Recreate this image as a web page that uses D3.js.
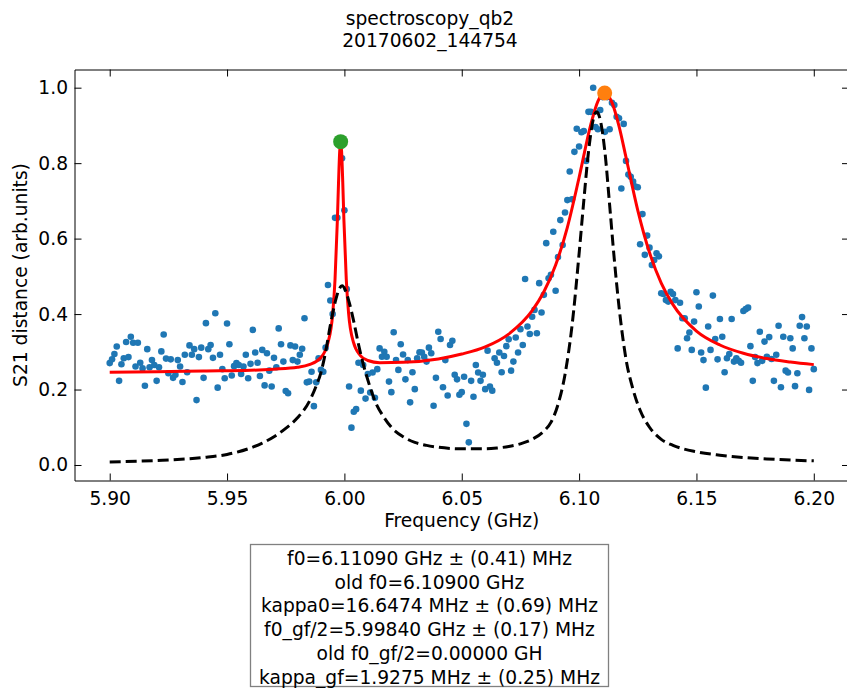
<!DOCTYPE html>
<html>
<head>
<meta charset="utf-8">
<title>spectroscopy_qb2</title>
<script src="https://d3js.org/d3.v7.min.js"></script>
<style>
  body { margin: 0; background: #fff; }
  svg { display: block; font-family: "DejaVu Sans", sans-serif; }
</style>
</head>
<body>
<svg id="chart" width="847" height="688"></svg>
<script>
// measured sweep (GHz)
const freqs = [
  5.900,5.901,5.902,5.903,5.904,5.905,5.906,5.907,5.908,5.909,
  5.910,5.911,5.912,5.913,5.914,5.915,5.916,5.917,5.918,5.919,
  5.920,5.921,5.922,5.923,5.924,5.925,5.926,5.927,5.928,5.929,
  5.930,5.931,5.932,5.933,5.934,5.935,5.936,5.937,5.938,5.939,
  5.940,5.941,5.942,5.943,5.944,5.945,5.946,5.947,5.948,5.949,
  5.950,5.951,5.952,5.953,5.954,5.955,5.956,5.957,5.958,5.959,
  5.960,5.961,5.962,5.963,5.964,5.965,5.966,5.967,5.968,5.969,
  5.970,5.971,5.972,5.973,5.974,5.975,5.976,5.977,5.978,5.979,
  5.980,5.981,5.982,5.983,5.984,5.985,5.986,5.987,5.988,5.989,
  5.990,5.991,5.992,5.993,5.994,5.995,5.996,5.997,5.998,5.999,
  6.000,6.001,6.002,6.003,6.004,6.005,6.006,6.007,6.008,6.009,
  6.010,6.011,6.012,6.013,6.014,6.015,6.016,6.017,6.018,6.019,
  6.020,6.021,6.022,6.023,6.024,6.025,6.026,6.027,6.028,6.029,
  6.030,6.031,6.032,6.033,6.034,6.035,6.036,6.037,6.038,6.039,
  6.040,6.041,6.042,6.043,6.044,6.045,6.046,6.047,6.048,6.049,
  6.050,6.051,6.052,6.053,6.054,6.055,6.056,6.057,6.058,6.059,
  6.060,6.061,6.062,6.063,6.064,6.065,6.066,6.067,6.068,6.069,
  6.070,6.071,6.072,6.073,6.074,6.075,6.076,6.077,6.078,6.079,
  6.080,6.081,6.082,6.083,6.084,6.085,6.086,6.087,6.088,6.089,
  6.090,6.091,6.092,6.093,6.094,6.095,6.096,6.097,6.098,6.099,
  6.100,6.101,6.102,6.103,6.104,6.105,6.106,6.107,6.108,6.109,
  6.110,6.111,6.112,6.113,6.114,6.115,6.116,6.117,6.118,6.119,
  6.120,6.121,6.122,6.123,6.124,6.125,6.126,6.127,6.128,6.129,
  6.130,6.131,6.132,6.133,6.134,6.135,6.136,6.137,6.138,6.139,
  6.140,6.141,6.142,6.143,6.144,6.145,6.146,6.147,6.148,6.149,
  6.150,6.151,6.152,6.153,6.154,6.155,6.156,6.157,6.158,6.159,
  6.160,6.161,6.162,6.163,6.164,6.165,6.166,6.167,6.168,6.169,
  6.170,6.171,6.172,6.173,6.174,6.175,6.176,6.177,6.178,6.179,
  6.180,6.181,6.182,6.183,6.184,6.185,6.186,6.187,6.188,6.189,
  6.190,6.191,6.192,6.193,6.194,6.195,6.196,6.197,6.198,6.199,
  6.200
];

// S21 distance
const s21 = [
  .270,.280,.294,.314,.223,.267,.283,.326,.286,.340,
  .324,.261,.324,.271,.256,.210,.307,.259,.278,.265,
  .223,.259,.301,.346,.282,.243,.280,.231,.239,.278,
  .261,.220,.292,.246,.317,.292,.307,.172,.286,.311,
  .231,.376,.307,.318,.284,.402,.205,.292,.254,.230,
  .375,.320,.237,.262,.270,.265,.241,.261,.292,.230,
  .268,.358,.298,.271,.236,.305,.211,.296,.250,.208,
  .284,.259,.362,.320,.274,.196,.190,.317,.278,.314,
  .274,.292,.308,.389,.219,.221,.247,.156,.219,.283,
  .252,.247,.311,.477,.436,.400,.655,.655,.850,.813,
  .675,.466,.208,.099,.141,.148,.271,.197,.265,.176,
  .241,.192,.245,.178,.254,.309,.287,.300,.287,.221,
  .193,.352,.278,.252,.320,.293,.227,.278,.166,.246,
  .201,.283,.299,.298,.287,.274,.311,.296,.157,.231,
  .353,.334,.206,.278,.184,.318,.329,.239,.227,.186,
  .193,.234,.109,.060,.223,.181,.265,.245,.223,.239,
  .201,.303,.208,.197,.283,.271,.298,.246,.289,.315,
  .333,.250,.274,.338,.298,.360,.318,.493,.367,.347,
  .393,.411,.349,.482,.404,.451,.588,.495,.504,.618,
  .462,.551,.649,.583,.669,.702,.778,.704,.830,.891,
  .844,.882,.885,.806,.936,.936,1.000,.896,.890,.941,
  .975,.883,.975,.890,.960,.954,.923,.919,.733,.904,
  .806,.770,.764,.751,.738,.736,.585,.665,.557,.608,
  .576,.530,.543,.561,.553,.455,.453,.437,.433,.459,
  .453,.437,.309,.430,.389,.389,.336,.351,.305,.380,
  .458,.420,.298,.278,.205,.367,.305,.449,.334,.280,
  .387,.340,.246,.283,.294,.387,.274,.283,.276,.271,
  .408,.413,.417,.315,.223,.286,.270,.353,.276,.327,
  .287,.339,.281,.223,.292,.369,.206,.340,.250,.245,
  .336,.309,.209,.243,.369,.392,.336,.367,.199,.309,
  .254
];

// fit curve (red)
const fitFreqs = [5.900,5.920,5.940,5.960,5.970,5.980,5.985,5.990,5.993,5.995,
  5.996,5.997,5.9975,5.998,5.9984,5.9988,5.9993,5.9998,6.0008,6.0018,
  6.0038,6.0068,6.010,6.015,6.025,6.040,6.050,6.060,6.070,6.080,
  6.085,6.090,6.095,6.100,6.105,6.108,6.1109,6.114,6.117,6.120,
  6.125,6.130,6.135,6.140,6.150,6.160,6.170,6.180,6.190,6.200];
const fitVals = [0.246,0.247,0.249,0.251,0.254,0.259,0.266,0.285,0.324,0.400,
  0.491,0.648,0.749,0.832,0.857,0.832,0.749,0.648,0.492,0.401,
  0.326,0.290,0.277,0.271,0.272,0.281,0.294,0.313,0.347,0.409,
  0.459,0.530,0.630,0.762,0.903,0.964,0.986,0.961,0.898,0.815,
  0.675,0.563,0.482,0.425,0.355,0.318,0.296,0.282,0.273,0.266];

// initial guess (black dashed)
const guessFreqs = [5.900,5.920,5.940,5.950,5.960,5.965,5.970,5.975,5.980,5.985,
  5.988,5.990,5.992,5.994,5.996,5.9975,5.999,6.0005,6.002,6.004,
  6.006,6.008,6.010,6.013,6.017,6.020,6.025,6.030,6.035,6.040,
  6.050,6.060,6.065,6.070,6.075,6.080,6.085,6.088,6.091,6.094,
  6.097,6.100,6.102,6.104,6.106,6.1075,6.109,6.111,6.113,6.115,
  6.117,6.120,6.123,6.126,6.130,6.135,6.140,6.150,6.160,6.170,
  6.180,6.190,6.200];
const guessVals = [0.008,0.012,0.020,0.028,0.045,0.058,0.075,0.097,0.125,0.168,
  0.210,0.245,0.300,0.370,0.430,0.462,0.475,0.462,0.432,0.380,
  0.320,0.268,0.225,0.170,0.125,0.100,0.075,0.060,0.052,0.047,
  0.043,0.043,0.045,0.049,0.056,0.068,0.090,0.113,0.160,0.240,
  0.370,0.560,0.700,0.830,0.915,0.936,0.915,0.830,0.690,0.545,
  0.420,0.280,0.200,0.145,0.100,0.068,0.052,0.035,0.026,0.020,
  0.016,0.013,0.011];

// fitted peak positions
const peakFreqs = [5.9984, 6.1109];
const peakVals = [0.857, 0.986];
const peakColors = ['#2ca02c', '#ff7f0e'];

const xTicks = [5.90, 5.95, 6.00, 6.05, 6.10, 6.15, 6.20];
const yTicks = [0.0, 0.2, 0.4, 0.6, 0.8, 1.0];
const titleLines = ['spectroscopy_qb2', '20170602_144754'];
const infoLines = [
  'f0=6.11090 GHz \u00b1 (0.41) MHz',
  'old f0=6.10900 GHz',
  'kappa0=16.6474 MHz \u00b1 (0.69) MHz',
  'f0_gf/2=5.99840 GHz \u00b1 (0.17) MHz',
  'old f0_gf/2=0.00000 GH',
  'kappa_gf=1.9275 MHz \u00b1 (0.25) MHz'
];

const svg = d3.select('#chart');
const fs = '18.67px';
const plotLeft = 74.5, plotRight = 849, plotTop = 69.5, plotBottom = 480.5;

svg.append('rect').attr('width', 847).attr('height', 688).attr('fill', '#fff');

const x = d3.scaleLinear().domain([5.885, 6.215]).range([plotLeft, plotRight]);
const y = d3.scaleLinear().domain([-0.0411, 1.0482]).range([plotBottom, plotTop]);

// data points
svg.append('g').selectAll('circle')
  .data(freqs)
  .join('circle')
  .attr('cx', d => x(d))
  .attr('cy', (d, i) => y(s21[i]))
  .attr('r', 3.3)
  .attr('fill', '#1f77b4');

const line = d3.line()
  .x(d => x(d[0]))
  .y(d => y(d[1]))
  .curve(d3.curveMonotoneX);

// fit
svg.append('path')
  .datum(fitFreqs.map((f, i) => [f, fitVals[i]]))
  .attr('d', line)
  .attr('fill', 'none')
  .attr('stroke', '#ff0000')
  .attr('stroke-width', 3);

// guess
svg.append('path')
  .datum(guessFreqs.map((f, i) => [f, guessVals[i]]))
  .attr('d', line)
  .attr('fill', 'none')
  .attr('stroke', '#000')
  .attr('stroke-width', 3)
  .attr('stroke-dasharray', '11,5');

// peak markers
svg.append('g').selectAll('circle')
  .data(peakFreqs)
  .join('circle')
  .attr('cx', d => x(d))
  .attr('cy', (d, i) => y(peakVals[i]))
  .attr('r', 7.5)
  .attr('fill', (d, i) => peakColors[i]);

// axes, ticks pointing inward on all four sides
const xAxis = svg.append('g')
  .attr('transform', `translate(0,${plotBottom})`)
  .call(d3.axisBottom(x).tickValues(xTicks).tickFormat(d3.format('.2f'))
    .tickSizeInner(-7).tickSizeOuter(0).tickPadding(11));
const yAxis = svg.append('g')
  .attr('transform', `translate(${plotLeft},0)`)
  .call(d3.axisLeft(y).tickValues(yTicks).tickFormat(d3.format('.1f'))
    .tickSizeInner(-7).tickSizeOuter(0).tickPadding(6.5));
const topAxis = svg.append('g')
  .attr('transform', `translate(0,${plotTop})`)
  .call(d3.axisTop(x).tickValues(xTicks).tickFormat('').tickSizeInner(-7).tickSizeOuter(0));
const rightAxis = svg.append('g')
  .attr('transform', `translate(${plotRight},0)`)
  .call(d3.axisRight(y).tickValues(yTicks).tickFormat('').tickSizeInner(-7).tickSizeOuter(0));

[xAxis, yAxis, topAxis, rightAxis].forEach(g => {
  g.select('.domain').attr('stroke', '#000').attr('stroke-width', 1);
  g.selectAll('.tick line').attr('stroke', '#000').attr('stroke-width', 1);
  g.selectAll('.tick text')
    .attr('fill', '#000')
    .style('font-family', '"DejaVu Sans", sans-serif')
    .style('font-size', fs);
});

// axis labels
svg.append('text')
  .attr('x', (plotLeft + plotRight) / 2)
  .attr('y', 527)
  .attr('text-anchor', 'middle')
  .style('font-size', fs)
  .text('Frequency (GHz)');

svg.append('text')
  .attr('transform', `translate(27,${(plotTop + plotBottom) / 2}) rotate(-90)`)
  .attr('text-anchor', 'middle')
  .style('font-size', fs)
  .text('S21 distance (arb.units)');

// title
svg.append('g').selectAll('text')
  .data(titleLines)
  .join('text')
  .attr('x', 430)
  .attr('y', (d, i) => 25 + i * 22)
  .attr('text-anchor', 'middle')
  .style('font-size', fs)
  .text(d => d);

// fit result box
svg.append('rect')
  .attr('x', 250.5).attr('y', 544.5)
  .attr('width', 358).attr('height', 142)
  .attr('fill', '#fff')
  .attr('stroke', '#808080')
  .attr('stroke-width', 1.3);

svg.append('g').selectAll('text')
  .data(infoLines)
  .join('text')
  .attr('x', 429.5)
  .attr('y', (d, i) => 565 + i * 23.7)
  .attr('text-anchor', 'middle')
  .style('font-size', fs)
  .text(d => d);
</script>
</body>
</html>
